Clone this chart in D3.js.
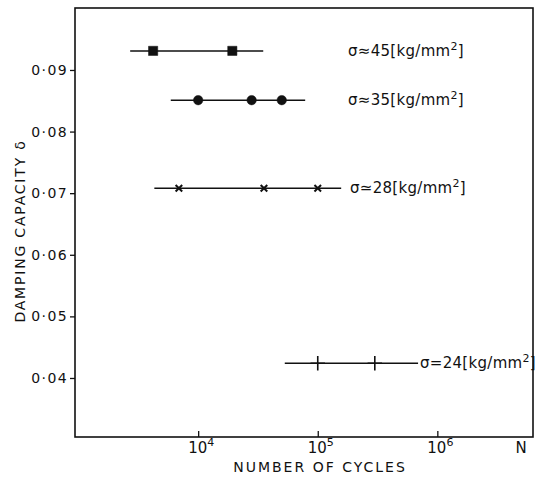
<!DOCTYPE html>
<html>
<head>
<meta charset="utf-8">
<script src="https://cdn.jsdelivr.net/npm/d3@7"></script>
<style>
  body { margin: 0; background: #fff; }
  text { font-family: "DejaVu Sans", sans-serif; fill: #111; }
</style>
</head>
<body>
<div id="chart"></div>
<script>
// stress levels and their damping capacity readings
const stresses = [45, 35, 28, 24];
const relations = ['≈', '≈', '≃', '='];
const deltas = [0.0931, 0.0851, 0.0708, 0.0424];
const lineStart = [2700, 5900, 4300, 53000];
const lineEnd = [35000, 78500, 157000, 690000];
const points = [
  [4200, 19300],
  [10000, 28000, 50000],
  [6900, 35500, 100000],
  [100000, 300000]
];
const symbols = ['square', 'circle', 'cross', 'plus'];

const yTicks = [0.04, 0.05, 0.06, 0.07, 0.08, 0.09];
const yTickLabels = ['0·04', '0·05', '0·06', '0·07', '0·08', '0·09'];
const xTicks = [1e4, 1e5, 1e6];
const xTickExp = ['4', '5', '6'];

const width = 538, height = 477;
const plotLeft = 75, plotRight = 533, plotTop = 8, plotBottom = 437;

const svg = d3.select('#chart')
  .append('svg')
  .attr('width', width)
  .attr('height', height);

const x = d3.scaleLog()
  .domain([Math.pow(10, 2.97), Math.pow(10, 6.80)])
  .range([plotLeft, plotRight]);
const y = d3.scaleLinear()
  .domain([0.03042, 0.10006])
  .range([plotBottom, plotTop]);

// frame
svg.append('rect')
  .attr('x', plotLeft).attr('y', plotTop)
  .attr('width', plotRight - plotLeft).attr('height', plotBottom - plotTop)
  .attr('fill', 'none')
  .attr('stroke', '#111')
  .attr('stroke-width', 1.6);

// y axis ticks (outward)
svg.append('g')
  .attr('transform', `translate(${plotLeft},0)`)
  .call(d3.axisLeft(y).tickValues(yTicks).tickSize(5).tickFormat((d, i) => yTickLabels[i]))
  .call(g => g.select('.domain').remove())
  .call(g => g.selectAll('line').attr('stroke', '#111').attr('stroke-width', 1.3))
  .call(g => g.selectAll('text')
    .attr('x', -7)
    .style('font-family', '"DejaVu Sans", sans-serif')
    .style('font-size', '14px')
    .style('letter-spacing', '1.4px')
    .attr('fill', '#111'));

// x axis ticks (inward)
svg.append('g')
  .attr('transform', `translate(0,${plotBottom})`)
  .call(d3.axisBottom(x).tickValues(xTicks).tickSize(-6).tickFormat(''))
  .call(g => g.select('.domain').remove())
  .call(g => g.selectAll('line').attr('stroke', '#111').attr('stroke-width', 1.3));

const xLabels = svg.append('g');
xTicks.forEach((t, i) => {
  const tx = xLabels.append('text')
    .attr('x', x(t) - 10)
    .attr('y', 453)
    .style('font-size', '15px');
  tx.append('tspan').text('10');
  tx.append('tspan').attr('dy', -7).style('font-size', '11px').text(xTickExp[i]);
});

svg.append('text')
  .attr('x', 521).attr('y', 453)
  .attr('text-anchor', 'middle')
  .style('font-size', '15px')
  .text('N');

svg.append('text')
  .attr('x', 320).attr('y', 472)
  .attr('text-anchor', 'middle')
  .style('font-size', '14px')
  .style('letter-spacing', '2px')
  .text('NUMBER OF CYCLES');

svg.append('text')
  .attr('transform', 'translate(25,231) rotate(-90)')
  .attr('text-anchor', 'middle')
  .style('font-size', '14px')
  .style('letter-spacing', '1.8px')
  .text('DAMPING CAPACITY δ');

// series
const series = stresses.map((s, i) => ({
  stress: s, rel: relations[i], delta: deltas[i],
  x0: lineStart[i], x1: lineEnd[i], pts: points[i], sym: symbols[i]
}));

const grp = svg.selectAll('g.series')
  .data(series)
  .enter()
  .append('g')
  .attr('class', 'series');

grp.append('line')
  .attr('x1', d => x(d.x0))
  .attr('x2', d => x(d.x1))
  .attr('y1', d => y(d.delta))
  .attr('y2', d => y(d.delta))
  .attr('stroke', '#111')
  .attr('stroke-width', 1.5);

const symMap = {
  square: { gen: d3.symbol().type(d3.symbolSquare).size(85), filled: true, sw: 0.5 },
  circle: { gen: d3.symbol().type(d3.symbolCircle).size(70), filled: true, sw: 0.5 },
  cross: { gen: d3.symbol().type(d3.symbolTimes).size(30), filled: false, sw: 2 },
  plus: { gen: d3.symbol().type(d3.symbolPlus).size(70), filled: false, sw: 1.6 }
};

grp.each(function(d) {
  const s = symMap[d.sym];
  d3.select(this).selectAll('path')
    .data(d.pts)
    .enter()
    .append('path')
    .attr('transform', p => `translate(${x(p)},${y(d.delta)})`)
    .attr('d', s.gen())
    .attr('fill', s.filled ? '#111' : 'none')
    .attr('stroke', '#111')
    .attr('stroke-width', s.sw);
});

const labelX = [348, 348, 350, 420];
grp.append('text')
  .attr('x', (d, i) => labelX[i])
  .attr('y', d => y(d.delta) + 5)
  .style('font-size', '15px')
  .style('letter-spacing', '0.3px')
  .each(function(d) {
    const t = d3.select(this);
    t.append('tspan').text(`σ${d.rel}${d.stress}[kg/mm`);
    t.append('tspan').attr('dy', -6).style('font-size', '11px').text('2');
    t.append('tspan').attr('dy', 6).text(']');
  });
</script>
</body>
</html>
